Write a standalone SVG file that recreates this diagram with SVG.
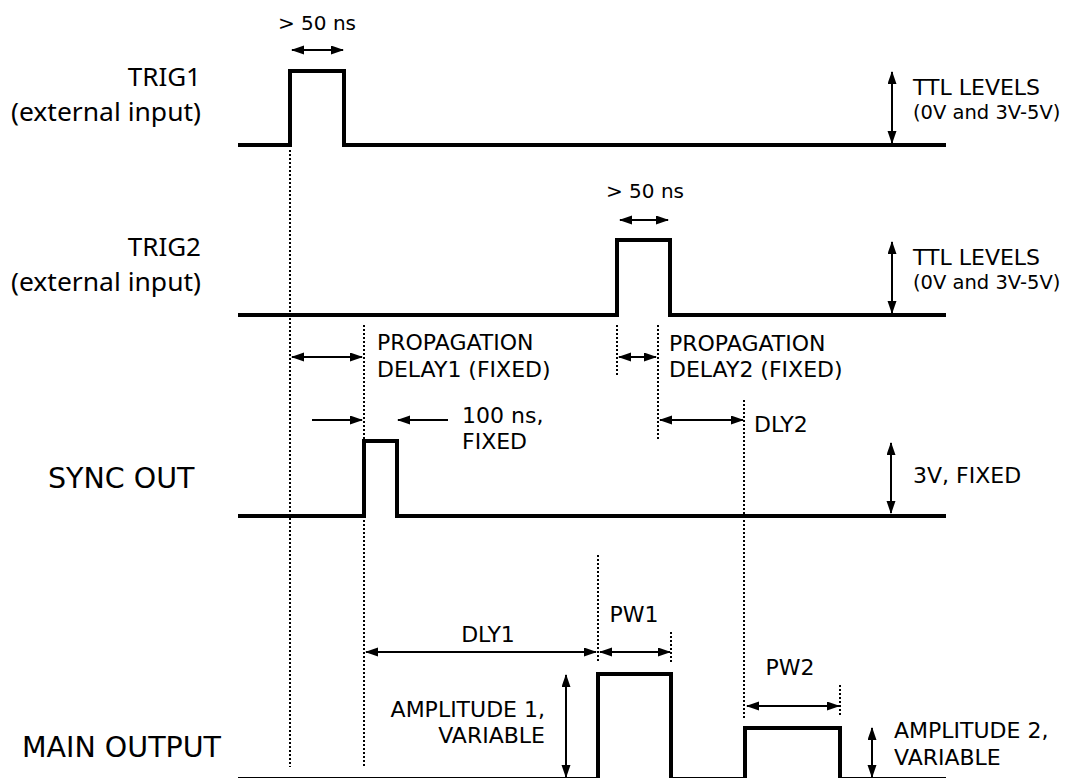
<svg xmlns="http://www.w3.org/2000/svg" width="1075" height="778" viewBox="0 0 1075 778">
<defs>
<marker id="ah" markerUnits="userSpaceOnUse" markerWidth="13" markerHeight="10" refX="12" refY="4.5" orient="auto-start-reverse"><path d="M0,0 L13,4.5 L0,9 z" fill="#000"/></marker>
<style>
.wave{fill:none;stroke:#000;stroke-width:4;stroke-linejoin:miter;stroke-linecap:butt}
.dot{fill:none;stroke:#000;stroke-width:2;stroke-dasharray:2,2}
.arr{fill:none;stroke:#000;stroke-width:2}
.dbl{marker-start:url(#ah);marker-end:url(#ah)}
.one{marker-end:url(#ah)}
.lbl{font-family:"Noto Sans","Open Sans",sans-serif;font-size:26px;fill:#000}
.big{font-family:"DejaVu Sans",sans-serif;font-size:28.5px;fill:#000}
.ann{font-family:"DejaVu Sans",sans-serif;font-size:22px;fill:#000}
.ttl{font-family:"DejaVu Sans",sans-serif;font-size:19.5px;fill:#000}
.sm{font-family:"DejaVu Sans",sans-serif;font-size:20px;fill:#000}
</style>
</defs>
<rect width="1075" height="778" fill="#fff"/>

<g id="trig1">
<path class="wave" d="M238,145 H290 V71 H344 V145 H946"/>
<text class="lbl" x="201" y="86" text-anchor="end">TRIG1</text>
<text class="lbl" x="201" y="121" text-anchor="end" textLength="190" lengthAdjust="spacingAndGlyphs">(external input)</text>
<text class="sm" x="317" y="30" text-anchor="middle">&gt; 50 ns</text>
<text class="ann" x="913" y="95">TTL LEVELS</text>
<text class="ttl" x="913" y="119">(0V and 3V-5V)</text>
</g>

<g id="trig2">
<path class="wave" d="M238,315 H617 V240 H670 V315 H946"/>
<text class="lbl" x="201" y="256" text-anchor="end">TRIG2</text>
<text class="lbl" x="201" y="291" text-anchor="end" textLength="190" lengthAdjust="spacingAndGlyphs">(external input)</text>
<text class="sm" x="645" y="198" text-anchor="middle">&gt; 50 ns</text>
<text class="ann" x="913" y="265">TTL LEVELS</text>
<text class="ttl" x="913" y="289">(0V and 3V-5V)</text>
</g>

<g id="sync-out">
<path class="wave" d="M238,516 H364 V441 H397 V516 H946"/>
<text class="big" x="48" y="488">SYNC OUT</text>
<text class="ann" x="913" y="483">3V, FIXED</text>
</g>

<g id="main-output">
<path class="wave" d="M238,779 H598 V674 H671 V779 H745 V728 H840 V779 H946"/>
<text class="big" x="22" y="757">MAIN OUTPUT</text>
<text class="ann" x="545" y="717" text-anchor="end">AMPLITUDE 1,</text>
<text class="ann" x="545" y="743" text-anchor="end">VARIABLE</text>
<text class="ann" x="894" y="738">AMPLITUDE 2,</text>
<text class="ann" x="894" y="765">VARIABLE</text>
</g>

<g id="annotations">
<text class="ann" x="377" y="350">PROPAGATION</text>
<text class="ann" x="377" y="377">DELAY1 (FIXED)</text>
<text class="ann" x="669" y="351">PROPAGATION</text>
<text class="ann" x="669" y="377">DELAY2 (FIXED)</text>
<text class="ann" x="462" y="423">100 ns,</text>
<text class="ann" x="462" y="449">FIXED</text>
<text class="ann" x="754" y="432">DLY2</text>
<text class="ann" x="488" y="642" text-anchor="middle">DLY1</text>
<text class="ann" x="634" y="622" text-anchor="middle">PW1</text>
<text class="ann" x="790" y="675" text-anchor="middle">PW2</text>
</g>

<g id="connectors">
<path class="dot" d="M290,150 V767"/>
<path class="dot" d="M364,325 V441 M364,516 V767"/>
<path class="dot" d="M617,325 V377"/>
<path class="dot" d="M658,325 V440"/>
<path class="dot" d="M744,400 V720"/>
<path class="dot" d="M598,555 V663"/>
<path class="dot" d="M671,632 V662"/>
<path class="dot" d="M840,685 V715"/>

<path class="arr dbl" d="M292,50 H343"/>
<path class="arr dbl" d="M892,72 V143"/>
<path class="arr dbl" d="M620,220 H668"/>
<path class="arr dbl" d="M892,242 V313"/>
<path class="arr dbl" d="M292,357 H362"/>
<path class="arr one" d="M312,420 H362"/>
<path class="arr one" d="M448,420 H398"/>
<path class="arr dbl" d="M619,357 H656"/>
<path class="arr dbl" d="M660,420 H743"/>
<path class="arr dbl" d="M891,443 V513"/>
<path class="arr dbl" d="M366,652 H596"/>
<path class="arr dbl" d="M600,652 H670"/>
<path class="arr dbl" d="M747,706 H839"/>
<path class="arr dbl" d="M566,675 V777"/>
<path class="arr dbl" d="M872,728 V777"/>
</g>
</svg>
